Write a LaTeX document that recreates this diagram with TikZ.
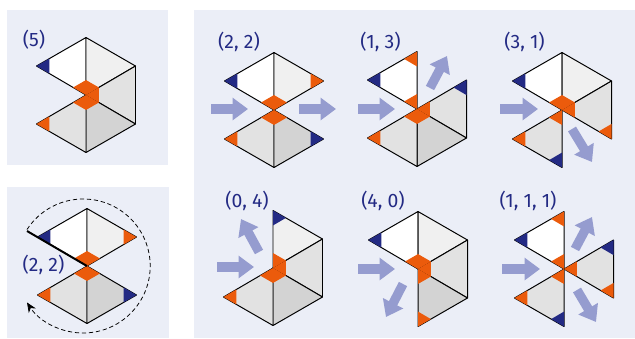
\documentclass[tikz,border=0pt]{standalone}
\usepackage{fontspec}
\setmainfont{Fira Sans}
\usetikzlibrary{arrows.meta,calc}

\definecolor{fundo}{HTML}{EBEEF7}
\definecolor{azul}{HTML}{232A84}
\definecolor{laranja}{HTML}{EB5B0C}
\definecolor{lilas}{HTML}{959CCF}
\definecolor{claro}{HTML}{F0F0F0}
\definecolor{medio}{HTML}{E2E2E2}
\definecolor{escuro}{HTML}{D3D3D3}

% Vértices do hexágono: a no topo, depois em sentido horário.
\newcommand{\vertices}{
    \coordinate (O) at (0,0);
    \coordinate (a) at (0,-57.5);
    \coordinate (b) at (49.5,-29);
    \coordinate (c) at (49.5,29);
    \coordinate (d) at (0,57.5);
    \coordinate (e) at (-49.5,29);
    \coordinate (f) at (-49.5,-29);
}
\newcommand{\fatias}[1]{
    \foreach \p/\q/\cor in {#1}
        \filldraw[peca, fill=\cor] (O) -- (\p) -- (\q) -- cycle;
}
\newcommand{\pontas}[1]{
    \foreach \v/\p/\q/\cor in {#1}
        \fill[\cor] (\v) -- ($(\v)!0.26!(\p)$) -- ($(\v)!0.26!(\q)$) -- cycle;
}

\begin{document}
\begin{tikzpicture}[
    x=0.025cm,
    y=-0.025cm,
    peca/.style={draw=black, line width=0.7pt, line join=round},
    painel/.style={fill=fundo},
    rotulo/.style={text=azul, font=\fontsize{13.8}{16}\selectfont, inner sep=0pt},
    seta/.style={lilas, line width=6.6pt, -{Triangle[length=11pt, width=15.5pt]}}
]
\useasboundingbox (0,0) rectangle (635,338);

% Painéis de fundo.
\fill[painel] (7,10) rectangle (168,165);
\fill[painel] (7,187) rectangle (169,338);
\fill[painel] (194,10) rectangle (635,338);

% Painel (5):
% cinco fatias, falta a da esquerda.
\begin{scope}[shift={(86,95)}]
    \vertices
    \fatias{f/a/white, a/b/claro, b/c/medio, c/d/escuro, d/e/medio}
    \pontas{f/a/O/azul, e/d/O/laranja, O/f/a/laranja, O/a/b/laranja, O/b/c/laranja, O/c/d/laranja, O/d/e/laranja}
\end{scope}
\node[rotulo] (cinco) at (34,40) {(5)};

% Painel (2, 2) com a rotação:
% corte grosso e arco tracejado em volta da figura.
\begin{scope}[shift={(87,266)}]
    \vertices
    \fatias{f/a/white, a/b/claro, d/e/medio, c/d/escuro}
    \pontas{f/a/O/azul, b/a/O/laranja, e/d/O/laranja, c/d/O/azul, O/f/a/laranja, O/a/b/laranja, O/d/e/laranja, O/c/d/laranja}
    \coordinate (corte) at (-60,-35);
    \draw[line width=1.4pt] (corte) -- (O);
\end{scope}
\draw[densely dashed, line width=0.55pt, -{Stealth[length=7pt, width=6pt]}]
    (83.2,266) ++(-147:67) arc [start angle=-147, end angle=147, radius=67];
\node[rotulo] (doisA) at (43.5,265) {(2, 2)};

% Painel (2, 2).
\begin{scope}[shift={(274,110)}]
    \vertices
    \fatias{f/a/white, a/b/claro, d/e/medio, c/d/escuro}
    \pontas{f/a/O/azul, b/a/O/laranja, e/d/O/laranja, c/d/O/azul, O/f/a/laranja, O/a/b/laranja, O/d/e/laranja, O/c/d/laranja}
\end{scope}
\draw[seta] (211,109) -- (248,109);
\draw[seta] (299,109) -- (336,109);
\node[rotulo] (doisB) at (239,42) {(2, 2)};

% Painel (1, 3).
\begin{scope}[shift={(417,109)}]
    \vertices
    \fatias{f/a/white, b/c/medio, c/d/escuro, d/e/medio}
    \pontas{f/a/O/azul, a/f/O/laranja, b/c/O/azul, e/d/O/laranja, O/f/a/laranja, O/b/c/laranja, O/c/d/laranja, O/d/e/laranja}
\end{scope}
\draw[seta] (358,109) -- (395,109);
\draw[seta] (430,88) -- (447,56);
\node[rotulo] (umTres) at (380.5,42) {(1, 3)};

% Painel (3, 1).
\begin{scope}[shift={(562,110)}]
    \vertices
    \fatias{f/a/white, a/b/claro, b/c/medio, d/e/medio}
    \pontas{f/a/O/azul, c/b/O/laranja, e/d/O/laranja, d/e/O/azul, O/f/a/laranja, O/a/b/laranja, O/b/c/laranja, O/d/e/laranja}
\end{scope}
\draw[seta] (500,109) -- (538,109);
\draw[seta] (572,129) -- (592,162);
\node[rotulo] (tresUm) at (524.5,42) {(3, 1)};

% Painel (0, 4).
\begin{scope}[shift={(273,268)}]
    \vertices
    \fatias{a/b/claro, b/c/medio, c/d/escuro, d/e/medio}
    \pontas{a/b/O/azul, e/d/O/laranja, O/a/b/laranja, O/b/c/laranja, O/c/d/laranja, O/d/e/laranja}
\end{scope}
\draw[seta] (217,267) -- (254,267);
\draw[seta] (259,252) -- (241,219);
\node[rotulo] (zeroQuatro) at (247,201) {(0, 4)};

% Painel (4, 0).
\begin{scope}[shift={(418,269)}]
    \vertices
    \fatias{f/a/white, a/b/claro, b/c/medio, c/d/escuro}
    \pontas{f/a/O/azul, d/c/O/laranja, O/f/a/laranja, O/a/b/laranja, O/b/c/laranja, O/c/d/laranja}
\end{scope}
\draw[seta] (358,269) -- (395,269);
\draw[seta] (403,284) -- (386,317);
\node[rotulo] (quatroZero) at (383,201) {(4, 0)};

% Painel (1, 1, 1):
% três fatias separadas, cada uma com as suas três pontas.
\begin{scope}[shift={(564,269)}]
    \vertices
    \fatias{f/a/white, b/c/medio, d/e/medio}
    \pontas{f/a/O/azul, a/f/O/laranja, b/c/O/azul, c/b/O/laranja, e/d/O/laranja, d/e/O/azul, O/f/a/laranja, O/b/c/laranja, O/d/e/laranja}
\end{scope}
\draw[seta] (502,269) -- (540,269);
\draw[seta] (575,249) -- (592,217);
\draw[seta] (577,290) -- (596,322);
\node[rotulo] (umUmUm) at (528,201) {(1, 1, 1)};

\end{tikzpicture}
\end{document}
